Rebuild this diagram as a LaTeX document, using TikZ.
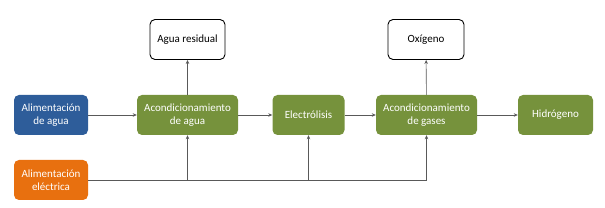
\documentclass[tikz,border=0pt]{standalone}
\usepackage{fontspec}
\setmainfont{Carlito}
\usetikzlibrary{arrows.meta}
\definecolor{bblue}{HTML}{2E5D9A}
\definecolor{bgreen}{HTML}{76923C}
\definecolor{borange}{HTML}{E8700F}
\definecolor{lgray}{HTML}{595959}
\tikzset{
  box/.style={rounded corners=5pt, minimum height=40pt, align=center, text=white,
    font=\fontsize{11}{13}\selectfont, inner sep=1pt},
  gbox/.style={box, fill=bgreen, minimum width=101pt},
  outbox/.style={rounded corners=5pt, draw=black, line width=0.9pt, fill=white, minimum height=40pt,
    minimum width=75pt, font=\fontsize{11}{13}\selectfont, text=black},
  conn/.style={draw=lgray, line width=0.6pt, -{Stealth[length=4pt,width=3.5pt]}},
  wire/.style={draw=lgray, line width=0.6pt}
}
\begin{document}
\begin{tikzpicture}[x=1pt,y=-1pt]
\useasboundingbox (0,0) rectangle (605,208);
\node[box, fill=bblue, minimum width=74pt] (aa) at (51,115) {Alimentación\\de agua};
\node[box, fill=borange, minimum width=74pt] (ae) at (51,180) {Alimentación\\eléctrica};
\node[gbox] (ca) at (187.5,115) {Acondicionamiento\\de agua};
\node[outbox] (ar) at (187.5,39.5) {Agua residual};
\node[gbox, minimum width=72pt] (el) at (308.5,115) {Electrólisis};
\node[gbox] (cg) at (426.5,115) {Acondicionamiento\\de gases};
\node[outbox, minimum width=76pt] (ox) at (426,39.5) {Oxígeno};
\node[gbox, minimum width=75pt] (hi) at (555.5,115) {Hidrógeno};
\draw[conn] (aa) -- (ca);
\draw[conn] (ca) -- (el);
\draw[conn] (el) -- (cg);
\draw[conn] (cg) -- (hi);
\draw[conn] (ca) -- (ar);
\draw[conn] (cg) -- (ox);
\coordinate (j1) at (ca.south |- ae.east);
\coordinate (j2) at (el.south |- ae.east);
\coordinate (j3) at (cg.south |- ae.east);
\draw[wire] (ae.east) -- (j3);
\draw[conn] (j1) -- (ca.south);
\draw[conn] (j2) -- (el.south);
\draw[conn] (j3) -- (cg.south);
\end{tikzpicture}
\end{document}
